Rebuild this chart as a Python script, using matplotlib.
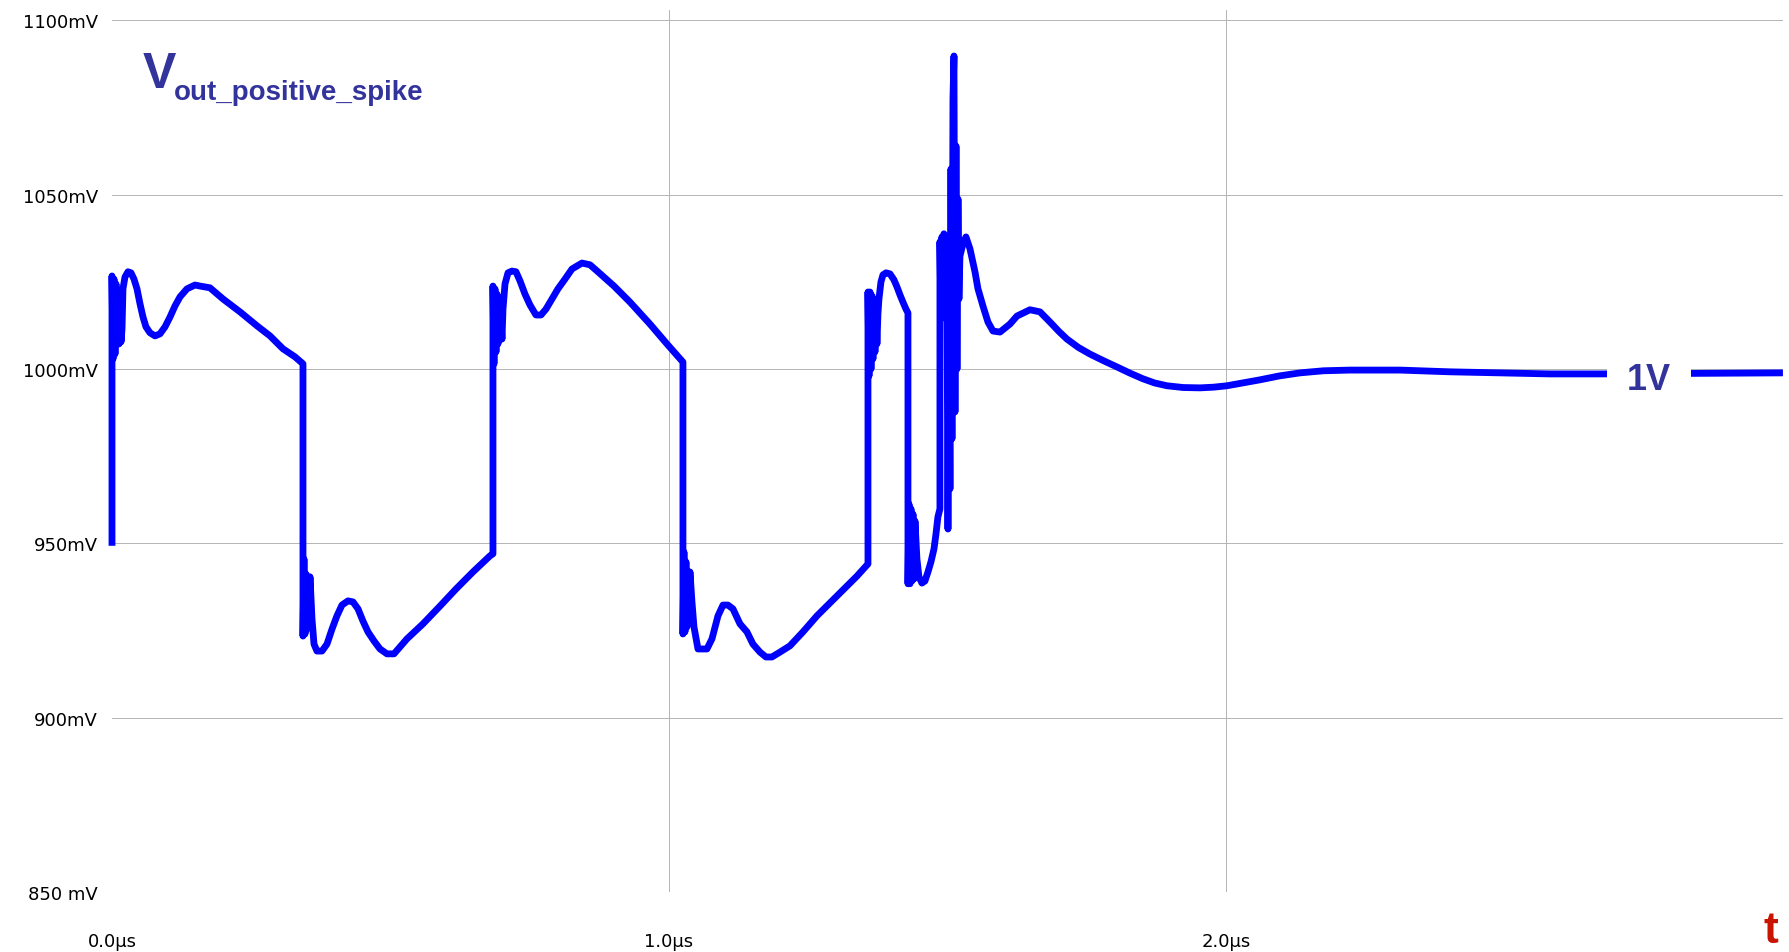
import numpy as np
import matplotlib
matplotlib.use("Agg")
import matplotlib.pyplot as plt

# time in microseconds, voltage in mV
t_us = [0.0000, 0.0000, 0.0018, 0.0036, 0.0054, 0.0072, 0.0090, 0.0108, 0.0126, 0.0144,
        0.0162, 0.0180, 0.0197, 0.0233, 0.0287, 0.0341, 0.0395, 0.0449, 0.0503, 0.0557,
        0.0610, 0.0682, 0.0772, 0.0862, 0.0952, 0.1041, 0.1131, 0.1221, 0.1346, 0.1490,
        0.1580, 0.1759, 0.1993, 0.2298, 0.2603, 0.2837, 0.3070, 0.3285, 0.3429,
        # first drop
        0.3429, 0.3447, 0.3465, 0.3483, 0.3501, 0.3519, 0.3537, 0.3555, 0.3573, 0.3591,
        0.3627, 0.3680, 0.3770, 0.3860, 0.3950, 0.4039, 0.4129, 0.4237, 0.4327, 0.4417,
        0.4506, 0.4596, 0.4704, 0.4812, 0.4937, 0.5063, 0.5296, 0.5583, 0.5889, 0.6176,
        0.6481, 0.6786, 0.6840,
        # second rise
        0.6840, 0.6858, 0.6876, 0.6894, 0.6912, 0.6930, 0.6966, 0.7002, 0.7020, 0.7056,
        0.7110, 0.7181, 0.7253, 0.7325, 0.7415, 0.7504, 0.7612, 0.7702, 0.7792, 0.7899,
        0.8007, 0.8133, 0.8259, 0.8438, 0.8582, 0.8725, 0.9013, 0.9300, 0.9659, 0.9964,
        1.0251,
        # second drop
        1.0251, 1.0269, 1.0287, 1.0305, 1.0323, 1.0341, 1.0359, 1.0377, 1.0413, 1.0449,
        1.0521, 1.0682, 1.0772, 1.0880, 1.0970, 1.1059, 1.1149, 1.1275, 1.1400, 1.1508,
        1.1634, 1.1741, 1.1849, 1.1993, 1.2172, 1.2406, 1.2657, 1.3016, 1.3375, 1.3573,
        # third rise
        1.3573, 1.3591, 1.3609, 1.3627, 1.3645, 1.3662, 1.3680, 1.3698, 1.3716, 1.3734,
        1.3752, 1.3770, 1.3806, 1.3842, 1.3896, 1.3968, 1.4039, 1.4093, 1.4147, 1.4201,
        1.4255, 1.4291,
        # third drop
        1.4291, 1.4309, 1.4327, 1.4345, 1.4363, 1.4381, 1.4399, 1.4417, 1.4434, 1.4452,
        1.4488, 1.4542, 1.4596, 1.4650, 1.4704, 1.4758, 1.4794, 1.4829, 1.4865,
        # spike and settling
        1.4865, 1.4883, 1.4901, 1.4919, 1.4937, 1.4955, 1.4973, 1.4991, 1.5009, 1.5027,
        1.5045, 1.5063, 1.5081, 1.5099, 1.5117, 1.5135, 1.5153, 1.5171, 1.5189, 1.5206,
        1.5224, 1.5278, 1.5332, 1.5404, 1.5494, 1.5548, 1.5637, 1.5727, 1.5817, 1.5943,
        1.6122, 1.6248, 1.6481, 1.6661, 1.6840, 1.7000, 1.7145, 1.7350, 1.7558, 1.7800,
        1.8043, 1.8280, 1.8510, 1.8720, 1.8941, 1.9230, 1.9533, 1.9780, 2.0018, 2.0300,
        2.0610, 2.0950, 2.1329, 2.1750, 2.2226, 2.3124, 2.4022, 2.4919, 2.5817, 2.6715,
        3.0000]

v_mv = [949.3, 1026.7, 1002.9, 1025.8, 1004.3, 1024.4, 1007.2, 1021.5, 1007.2, 1020.1,
        1007.8, 1011.5, 1023.0, 1026.4, 1027.9, 1027.6, 1025.8, 1023.0, 1018.7, 1014.9,
        1012.1, 1010.4, 1009.5, 1010.1, 1012.1, 1014.9, 1018.1, 1020.7, 1023.0, 1024.1,
        1023.8, 1023.3, 1020.1, 1016.4, 1012.4, 1009.5, 1005.8, 1003.5, 1001.5,
        923.4, 945.5, 924.0, 941.2, 925.4, 938.4, 928.3, 940.4, 934.1, 928.3,
        921.1, 919.1, 919.1, 921.1, 925.4, 929.2, 932.3, 933.5, 933.2, 931.2,
        927.7, 924.6, 922.0, 919.7, 918.3, 918.3, 922.6, 926.9, 932.0, 936.9,
        941.8, 946.4, 947.0,
        1023.8, 1001.5, 1023.0, 1004.9, 1021.5, 1007.2, 1020.1, 1008.6, 1017.2, 1024.4,
        1027.6, 1028.1, 1027.9, 1025.3, 1021.5, 1018.4, 1015.5, 1015.5, 1017.2, 1020.1,
        1023.0, 1025.8, 1028.7, 1030.4, 1029.9, 1027.9, 1023.8, 1019.2, 1012.9, 1007.2,
        1002.0,
        924.0, 947.5, 924.6, 944.7, 926.0, 941.2, 929.2, 941.8, 933.2, 926.0,
        919.7, 919.7, 922.6, 929.2, 932.3, 932.3, 931.2, 926.9, 924.6, 921.1,
        918.8, 917.4, 917.4, 918.8, 920.6, 924.6, 929.2, 934.9, 940.6, 944.1,
        1022.1, 998.0, 1022.1, 1000.0, 1021.0, 1002.9, 1020.1, 1004.9, 1017.2, 1007.2,
        1015.8, 1020.1, 1025.0, 1027.0, 1027.6, 1027.3, 1025.6, 1023.6, 1021.3, 1019.2,
        1017.2, 1016.1,
        938.4, 961.3, 938.4, 959.9, 939.2, 958.4, 939.8, 956.4, 951.3, 945.5,
        940.4, 938.6, 939.2, 941.8, 944.7, 948.4, 952.7, 957.6, 959.9,
        1036.5, 1014.4, 1037.9, 1020.1, 1038.8, 1025.0, 1034.5, 1025.0, 954.1, 1020.1,
        965.6, 1057.4, 980.0, 1077.5, 1089.8, 987.7, 1064.0, 1000.0, 1048.8, 1020.1,
        1032.4, 1035.9, 1037.9, 1034.5, 1027.9, 1023.0, 1018.1, 1013.5, 1010.9, 1010.6,
        1012.9, 1015.2, 1017.0, 1016.4, 1013.5, 1010.8, 1008.6, 1006.2, 1004.3, 1002.4,
        1000.6, 998.8, 997.2, 996.0, 995.2, 994.7, 994.6, 994.8, 995.2, 996.0,
        996.9, 998.0, 998.9, 999.5, 999.7, 999.7, 999.2, 998.9, 998.6, 998.6,
        998.9]

y_ticks = [850, 900, 950, 1000, 1050, 1100]
y_labels = ["850 mV", "900mV", "950mV", "1000mV", "1050mV", "1100mV"]
x_ticks = [0.0, 1.0, 2.0]
x_labels = ["0.0µs", "1.0µs", "2.0µs"]

title_color = "#33339c"

fig = plt.figure(figsize=(17.89, 9.53), dpi=100)
ax = fig.add_axes([0.0626, 0.063, 0.934, 0.9255])

# clip_on off so the first vertical edge at t=0 is not cut in half
ax.plot(t_us, v_mv, color="#0000ff", lw=4.9, solid_joinstyle="round",
        solid_capstyle="butt", zorder=3, clip_on=False)

ax.set_xlim(0, 3.0)
ax.set_ylim(850, 1103)

ax.set_xticks(x_ticks)
ax.set_xticklabels(x_labels)
ax.set_yticks(y_ticks)
ax.set_yticklabels(y_labels)
ax.tick_params(axis="both", length=0, labelsize=13, colors="black")
ax.tick_params(axis="x", pad=29)
ax.tick_params(axis="y", pad=10)

for s in ax.spines.values():
    s.set_visible(False)

ax.grid(True, color="#b4b4b4", lw=0.7, zorder=1)
# no grid line on the left edge and bottom edge
ax.xaxis.get_gridlines()[0].set_visible(False)
ax.yaxis.get_gridlines()[0].set_visible(False)

# label for the settled level, white box hides the trace behind it
ax.text(2.759, 994.3, "1V", color=title_color, fontsize=26, fontweight="bold",
        family="Liberation Sans", ha="center", va="baseline", zorder=4,
        bbox=dict(boxstyle="square,pad=0.55", fc="white", ec="none"))

# signal name, big V with subscript
fig.text(0.0799, 0.9077, "V", color=title_color, fontsize=36, fontweight="bold",
         family="Liberation Sans", ha="left", va="baseline")
fig.text(0.0973, 0.8951, "out_positive_spike", color=title_color, fontsize=20,
         fontweight="bold", family="Liberation Sans", ha="left", va="baseline")

# time axis marker
fig.text(0.9855, 0.0105, "t", color="#c81400", fontsize=32, fontweight="bold",
         family="Liberation Sans", ha="left", va="baseline")

fig.savefig("out.png", dpi=100)
